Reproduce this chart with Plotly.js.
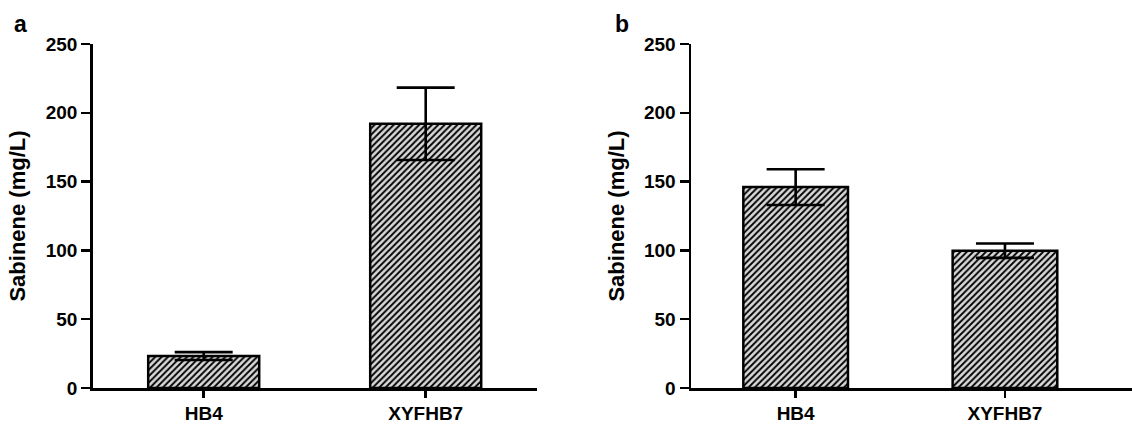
<!DOCTYPE html>
<html>
<head>
<meta charset="utf-8">
<script src="https://cdn.plot.ly/plotly-3.0.1.min.js"></script>
<style>html,body{margin:0;padding:0;background:#fff;}#chart{width:1132px;height:425px;}</style>
</head>
<body>
<div id="chart"></div>
<script>
// Data
const categories = ["HB4", "XYFHB7"];
const valuesA = [23.2, 192.0];
const errorsA = [2.9, 26.3];
const valuesB = [146.0, 99.8];
const errorsB = [13.0, 5.2];
const yTickVals = [0, 50, 100, 150, 200, 250];
const yTitle = "Sabinene (mg/L)";
const panelLabels = ["a", "b"];

const FONT = "Liberation Sans, Arial, Helvetica, sans-serif";

function barTrace(vals, errs, xa, ya) {
  return {
    type: "bar",
    x: categories,
    y: vals,
    xaxis: xa,
    yaxis: ya,
    width: 0.5,
    marker: {
      color: "#d9d9d9",
      line: {color: "#000", width: 2.5},
      pattern: {shape: "/", fgcolor: "#000", bgcolor: "#d9d9d9", size: 4.5, solidity: 0.42}
    },
    error_y: {type: "data", array: errs, visible: true, color: "#000", thickness: 2.6, width: 29},
    showlegend: false,
    hoverinfo: "skip"
  };
}

const yDomain = [37 / 425, 381 / 425];

function yAxis(anchor) {
  return {
    domain: yDomain,
    anchor: anchor,
    range: [0, 250],
    tickvals: yTickVals,
    ticks: "outside",
    ticklen: 9,
    tickwidth: 2.5,
    tickcolor: "#000",
    showline: true,
    linecolor: "#000",
    linewidth: 2.5,
    showgrid: false,
    zeroline: false,
    tickfont: {family: FONT, size: 19, color: "#000", weight: "bold"},
    title: {text: yTitle, font: {family: FONT, size: 22, color: "#000", weight: "bold"}, standoff: 14}
  };
}

function xAxis(anchor, domain, range) {
  return {
    domain: domain,
    anchor: anchor,
    type: "category",
    range: range,
    ticks: "outside",
    ticklen: 7,
    tickwidth: 2.5,
    tickcolor: "#000",
    showline: true,
    linecolor: "#000",
    linewidth: 2.5,
    showgrid: false,
    zeroline: false,
    ticklabelstandoff: 0,
    tickfont: {family: FONT, size: 19, color: "#000", weight: "bold"}
  };
}

const data = [
  barTrace(valuesA, errorsA, "x", "y"),
  barTrace(valuesB, errorsB, "x2", "y2")
];

const layout = {
  width: 1132,
  height: 425,
  margin: {l: 0, r: 0, t: 0, b: 0},
  paper_bgcolor: "#fff",
  plot_bgcolor: "#fff",
  xaxis: xAxis("y", [92.7 / 1132, 536.7 / 1132], [-0.5, 1.5]),
  yaxis: yAxis("x"),
  xaxis2: xAxis("y2", [691 / 1132, 1], [-0.5, 1.607]),
  yaxis2: yAxis("x2"),
  annotations: [
    {text: panelLabels[0], xref: "paper", yref: "paper", x: 12 / 1132, y: 1 - 24 / 425, xanchor: "left", yanchor: "middle", showarrow: false, font: {family: FONT, size: 23, color: "#000", weight: "bold"}},
    {text: panelLabels[1], xref: "paper", yref: "paper", x: 613 / 1132, y: 1 - 24 / 425, xanchor: "left", yanchor: "middle", showarrow: false, font: {family: FONT, size: 23, color: "#000", weight: "bold"}}
  ]
};

Plotly.newPlot("chart", data, layout, {displayModeBar: false, staticPlot: true});
</script>
</body>
</html>
